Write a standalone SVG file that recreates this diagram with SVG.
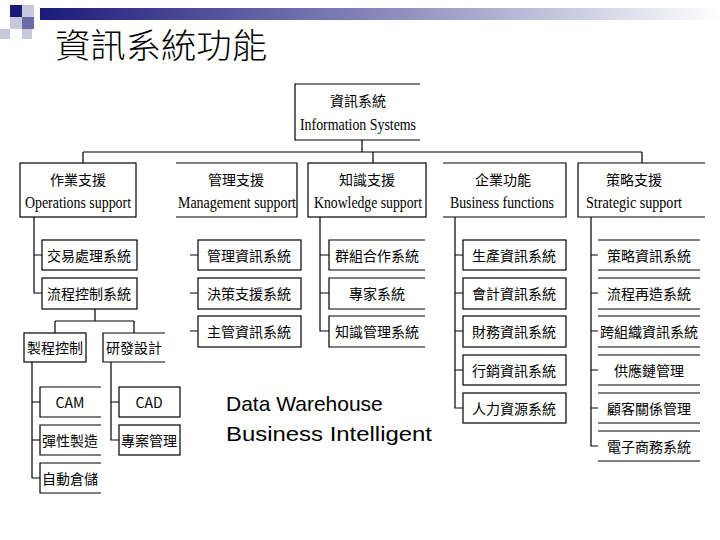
<svg xmlns="http://www.w3.org/2000/svg" width="720" height="540" viewBox="0 0 720 540">
<defs>
<linearGradient id="bar" x1="0" x2="1" y1="0" y2="0"><stop offset="0" stop-color="#1a1a7a"/><stop offset="0.5" stop-color="#8888bb"/><stop offset="1" stop-color="#ffffff"/></linearGradient>
</defs>
<style>
.b{fill:#fff;stroke:#000;stroke-width:1.2}
.l{fill:none;stroke:#000;stroke-width:1.2}
.c{font-family:"Noto Sans CJK TC","Noto Sans CJK SC",sans-serif;font-size:14px;text-anchor:middle}
.e{font-family:"Liberation Serif",serif;font-size:16px;text-anchor:middle}
</style>
<rect width="720" height="540" fill="#fff"/>
<g id="deco">
<rect x="40" y="8" width="680" height="12" fill="url(#bar)"/>
<rect x="10" y="5" width="12" height="12" fill="#1a1a7a"/>
<rect x="22" y="5" width="12" height="12" fill="#c8c8dc"/>
<rect x="10" y="17" width="12" height="12" fill="#c8c8dc"/>
<rect x="22" y="17" width="12" height="12" fill="#6a6aa6"/>
<rect x="0" y="29" width="10" height="10" fill="#c8c8dc"/>
<rect x="22" y="29" width="10" height="10" fill="#c8c8dc"/>
</g>
<text x="55" y="58" font-family="Noto Sans CJK TC,sans-serif" font-size="34" font-weight="300" textLength="212" lengthAdjust="spacingAndGlyphs">資訊系統功能</text>
<g id="connectors" class="l">
<path class="l" d="M362 140V152M83 152H642M83 152V163M373 152V163M642 152V163"/>
<path class="l" d="M34 217V293H42M34 255H42"/>
<path class="l" d="M95 309V321M55 321H134M55 321V333M134 321V333"/>
<path class="l" d="M32 362V478H40M32 402H40M32 440H40"/>
<path class="l" d="M111 362V440H119M111 402H119"/>
<path class="l" d="M190 255H198M190 293H198M190 331H198"/>
<path class="l" d="M320 217V331H329M320 255H329M320 293H329"/>
<path class="l" d="M455 217V408H463M455 255H463M455 293H463M455 331H463M455 370H463"/>
<path class="l" d="M591 217V446H598M591 255H598M591 293H598M591 331H598M591 370H598M591 408H598"/>
</g>
<g id="root"><path class="l" d="M420 84H295V140H420"/><text class="c" x="358" y="106">資訊系統</text><text class="e" x="358" y="130" textLength="116" lengthAdjust="spacingAndGlyphs">Information Systems</text></g>
<g id="ops"><rect class="b" x="20" y="163" width="116" height="54"/><text class="c" x="78" y="185">作業支援</text><text class="e" x="78" y="208" textLength="106" lengthAdjust="spacingAndGlyphs">Operations support</text></g>
<g id="mgmt"><path class="l" d="M176 163H297V217H176"/><text class="c" x="236" y="185">管理支援</text><text class="e" x="237" y="208" textLength="118" lengthAdjust="spacingAndGlyphs">Management support</text></g>
<g id="know"><rect class="b" x="308" y="163" width="118" height="54"/><text class="c" x="367" y="185">知識支援</text><text class="e" x="368" y="208" textLength="108" lengthAdjust="spacingAndGlyphs">Knowledge support</text></g>
<g id="bus"><path class="l" d="M443 163H566V217H443"/><text class="c" x="503" y="185">企業功能</text><text class="e" x="502" y="208" textLength="104" lengthAdjust="spacingAndGlyphs">Business functions</text></g>
<g id="strat"><path class="l" d="M705 163H578V217H705"/><text class="c" x="634" y="185">策略支援</text><text class="e" x="634" y="208" textLength="96" lengthAdjust="spacingAndGlyphs">Strategic support</text></g>
<g id="o1"><rect class="b" x="42" y="240" width="95" height="30"/><text class="c" x="89" y="261">交易處理系統</text></g>
<g id="o2"><rect class="b" x="42" y="278" width="95" height="31"/><text class="c" x="89" y="299">流程控制系統</text></g>
<g id="o3"><rect class="b" x="24" y="333" width="62" height="29"/><text class="c" x="55" y="353">製程控制</text></g>
<g id="o4"><path class="l" d="M165 333H103V362H165"/><text class="c" x="134" y="353">研發設計</text></g>
<g id="o5"><path class="l" d="M101 387H40V417H101"/><text class="c" x="70" y="408">CAM</text></g>
<g id="o6"><path class="l" d="M101 425H40V455H101"/><text class="c" x="70" y="446">彈性製造</text></g>
<g id="o7"><path class="l" d="M101 463H40V493H101"/><text class="c" x="70" y="484">自動倉儲</text></g>
<g id="o8"><rect class="b" x="119" y="387" width="61" height="30"/><text class="c" x="149" y="408">CAD</text></g>
<g id="o9"><rect class="b" x="119" y="425" width="61" height="30"/><text class="c" x="149" y="446">專案管理</text></g>
<g id="m1"><rect class="b" x="198" y="240" width="103" height="30"/><text class="c" x="249" y="261">管理資訊系統</text></g>
<g id="m2"><rect class="b" x="198" y="278" width="103" height="31"/><text class="c" x="249" y="299">決策支援系統</text></g>
<g id="m3"><rect class="b" x="198" y="316" width="103" height="31"/><text class="c" x="249" y="337">主管資訊系統</text></g>
<g id="k1"><path class="l" d="M425 240H329V270H425"/><text class="c" x="377" y="261">群組合作系統</text></g>
<g id="k2"><path class="l" d="M425 278H329V309H425"/><text class="c" x="377" y="299">專家系統</text></g>
<g id="k3"><path class="l" d="M425 316H329V347H425"/><text class="c" x="377" y="337">知識管理系統</text></g>
<g id="b1"><rect class="b" x="463" y="240" width="103" height="30"/><text class="c" x="514" y="261">生產資訊系統</text></g>
<g id="b2"><rect class="b" x="463" y="278" width="103" height="31"/><text class="c" x="514" y="299">會計資訊系統</text></g>
<g id="b3"><rect class="b" x="463" y="316" width="103" height="31"/><text class="c" x="514" y="337">財務資訊系統</text></g>
<g id="b4"><rect class="b" x="463" y="355" width="103" height="30"/><text class="c" x="514" y="376">行銷資訊系統</text></g>
<g id="b5"><rect class="b" x="463" y="393" width="103" height="30"/><text class="c" x="514" y="414">人力資源系統</text></g>
<g id="s" class="l">
<path class="l" d="M598 240H700M598 270H700M598 278H700M598 309H700M598 316H700M598 347H700M598 355H700M598 385H700M598 393H700M598 423H700M598 431H700M598 461H700"/>
</g>
<g id="s1"><text class="c" x="649" y="261">策略資訊系統</text></g>
<g id="s2"><text class="c" x="649" y="299">流程再造系統</text></g>
<g id="s3"><text class="c" x="649" y="337">跨組織資訊系統</text></g>
<g id="s4"><text class="c" x="649" y="376">供應鏈管理</text></g>
<g id="s5"><text class="c" x="649" y="414">顧客關係管理</text></g>
<g id="s6"><text class="c" x="649" y="452">電子商務系統</text></g>
<g id="dw" font-family="Liberation Sans,sans-serif" font-size="21"><text x="226" y="411">Data Warehouse</text><text x="226" y="441" textLength="206" lengthAdjust="spacingAndGlyphs">Business Intelligent</text></g>
</svg>
